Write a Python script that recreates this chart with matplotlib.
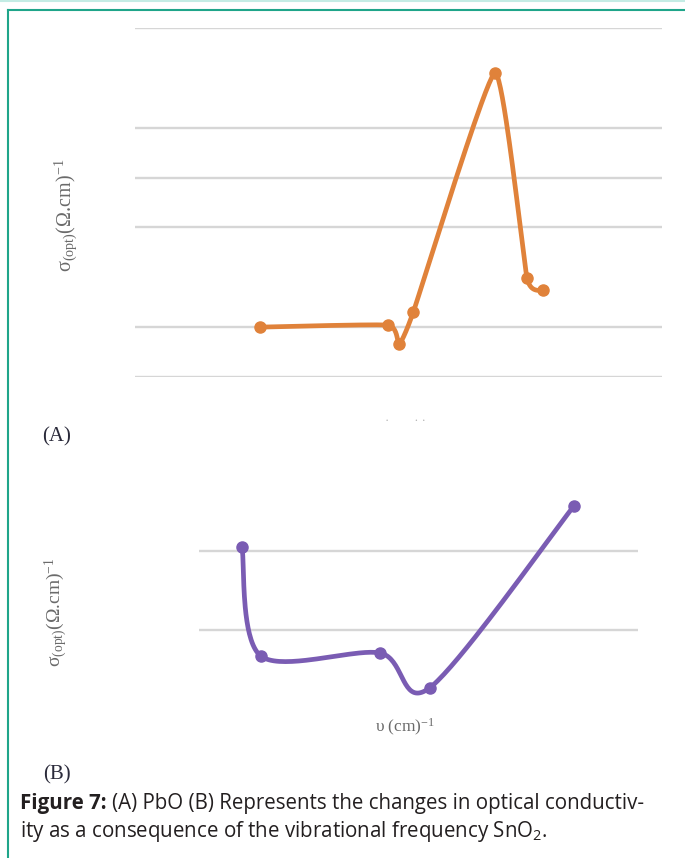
import numpy as np
import matplotlib
matplotlib.use("Agg")
import matplotlib.pyplot as plt
from matplotlib.lines import Line2D

# ---------------- data ----------------
a_x = [23.7, 48.0, 50.1, 52.8, 68.3, 74.4, 77.4]
a_y = [1.00, 1.04, 0.66, 1.30, 6.10, 1.98, 1.74]
a_grid = [0, 1, 3, 4, 5, 7]

b_x = [9.8, 14.1, 41.2, 52.6, 85.4]
b_y = [2.05, 0.67, 0.71, 0.27, 2.57]
b_grid = [1, 2]

W, H = 685, 858
fig = plt.figure(figsize=(W / 100, H / 100), dpi=100)
fig.patch.set_facecolor("white")


def px_axes(x0, y0, x1, y1):
    """axes from pixel box (top-left origin)."""
    return fig.add_axes([x0 / W, 1 - y1 / H, (x1 - x0) / W, (y1 - y0) / H])


def smooth(ax, xs, ys, tension=1.0, n=40):
    pts = ax.transData.transform(np.column_stack([xs, ys]))
    P = np.vstack([pts[0], pts, pts[-1]])
    out = []
    for i in range(1, len(P) - 2):
        p0, p1, p2, p3 = P[i - 1], P[i], P[i + 1], P[i + 2]
        m1 = tension * (p2 - p0) / 2
        m2 = tension * (p3 - p1) / 2
        t = np.linspace(0, 1, n)[:, None]
        h00 = 2 * t ** 3 - 3 * t ** 2 + 1
        h10 = t ** 3 - 2 * t ** 2 + t
        h01 = -2 * t ** 3 + 3 * t ** 2
        h11 = t ** 3 - t ** 2
        out.append(h00 * p1 + h10 * m1 + h01 * p2 + h11 * m2)
    out = np.vstack(out)
    d = ax.transData.inverted().transform(out)
    return d[:, 0], d[:, 1]


def style(ax):
    for s in ax.spines.values():
        s.set_visible(False)
    ax.set_xticks([])
    ax.set_yticks([])
    ax.patch.set_alpha(0)


# ---------------- panel A ----------------
axA = px_axes(135, 28, 662, 377)
axA.set_xlim(0, 100)
axA.set_ylim(0, 7)
style(axA)
for g in a_grid:
    axA.axhline(g, color="#d6d6d6", lw=1.7, zorder=1)
sx, sy = smooth(axA, a_x, a_y, tension=0.45)
orange = "#e0823a"
axA.plot(sx, sy, color=orange, lw=3.4, solid_capstyle="round", solid_joinstyle="round",
         zorder=3, clip_on=False)
axA.plot(a_x, a_y, "o", color=orange, ms=8, zorder=4, clip_on=False)

# ---------------- panel B ----------------
axB = px_axes(199, 472, 638, 709)
axB.set_xlim(0, 100)
axB.set_ylim(0, 3)
style(axB)
for g in b_grid:
    axB.axhline(g, color="#d6d6d6", lw=1.7, zorder=1)
purple = "#7a5cb3"
sx, sy = smooth(axB, b_x, b_y, tension=0.9)
axB.plot(sx, sy, color=purple, lw=3.4, solid_capstyle="round", solid_joinstyle="round",
         zorder=3, clip_on=False)
axB.plot(b_x, b_y, "o", color=purple, ms=8, zorder=4, clip_on=False)

# ---------------- labels ----------------
serif = "Liberation Serif"
lab_col = "#6a6a6a"
fig.text(66 / W, 1 - 215 / H, r"σ$\mathregular{_{(opt)}}$(Ω.cm)$\mathregular{^{-1}}$",
         rotation=90, ha="center", va="center", family=serif, fontsize=14.5, color=lab_col)
fig.text(56 / W, 1 - 612 / H, r"σ$\mathregular{_{(opt)}}$(Ω.cm)$\mathregular{^{-1}}$",
         rotation=90, ha="center", va="center", family=serif, fontsize=14, color=lab_col)
fig.text(405 / W, 1 - 727 / H, r"υ (cm)$\mathregular{^{-1}}$", ha="center", va="center",
         family=serif, fontsize=12.5, color=lab_col)
fig.text(405 / W, 1 - 421 / H, "·        · ·", ha="center", va="center",
         family=serif, fontsize=9, color="#b0b0b0")

fig.text(57 / W, 1 - 437 / H, "(A)", ha="center", va="center", family=serif,
         fontsize=15, color="#2a2a3a")
fig.text(57 / W, 1 - 775 / H, "(B)", ha="center", va="center", family=serif,
         fontsize=15, color="#2a2a3a")

# ---------------- caption ----------------
cap_col = "#231f20"
cap_font = "Open Sans"
cfs = 14.8
t1 = fig.text(20 / W, 1 - 803 / H, "Figure 7:", ha="left", va="center", family=cap_font,
              fontsize=cfs, fontweight="bold", color=cap_col)
fig.canvas.draw()
r = fig.canvas.get_renderer()
bb = t1.get_window_extent(r)
x_next = (bb.x1 + 5) / W
fig.text(x_next, 1 - 803 / H, "(A) PbO (B) Represents the changes in optical conductiv-",
         ha="left", va="center", family=cap_font, fontsize=cfs, color=cap_col)
fig.text(20 / W, 1 - 832 / H, r"ity as a consequence of the vibrational frequency SnO$\mathregular{_2}$.",
         ha="left", va="center", family=cap_font, fontsize=cfs, color=cap_col)

# ---------------- border ----------------
fig.add_artist(Line2D([0, 1], [1 - 0.8 / H, 1 - 0.8 / H], transform=fig.transFigure,
                      color="#c3ece4", lw=1.5))
fig.add_artist(Line2D([7.5 / W, 1], [1 - 9.5 / H, 1 - 9.5 / H], transform=fig.transFigure,
                      color="#1fa58a", lw=1.5))
fig.add_artist(Line2D([7.5 / W, 7.5 / W], [0, 1 - 9.5 / H], transform=fig.transFigure,
                      color="#1fa58a", lw=1.5))

fig.savefig("out.png", dpi=100)
